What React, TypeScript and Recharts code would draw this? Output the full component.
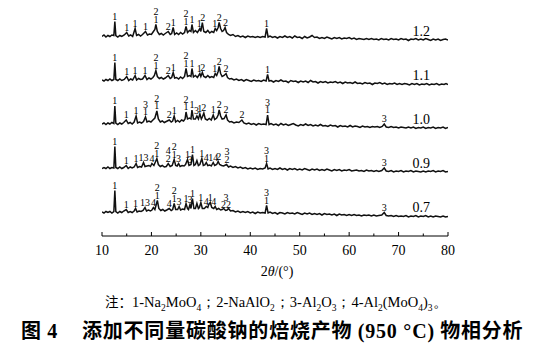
import React from 'react';
import { LineChart, Line, XAxis, YAxis, ReferenceDot } from 'recharts';

// 2θ ticks (minor every 5°)
const xTicks = [10, 15, 20, 25, 30, 35, 40, 45, 50, 55, 60, 65, 70, 75, 80];

// sample names (mass ratio of Na2CO3), top to bottom
const sampleNames = ['1.2', '1.1', '1.0', '0.9', '0.7'];

// intensity (a.u.), [2θ, counts]
const pattern12: [number, number][] = [
  [10,0],[10.4,1.5],[10.8,-0.5],[11.2,1],[11.6,0],[12,1.5],[12.4,1],[12.6,15],[12.8,1],[13.2,-0.5],[13.6,1],[14,0],[14.5,1.5],[15,4],[15.4,0.5],[15.8,1.5],[16.2,0],[16.7,8],[17,1],[17.4,2],[17.8,0.5],[18.2,2],[18.8,5],[19.2,1.5],[19.6,2.5],[20,2],[20.4,5],[20.7,7],[20.9,12],[21.2,5],[21.6,2],[22,3],[22.4,1.5],[22.8,3],[23.4,5],[23.8,2],[24.1,3],[24.4,9],[24.7,2],[25.1,3.5],[25.5,2],[25.9,4],[26.3,2.5],[26.7,4],[27,10],[27.3,4],[27.7,6],[28,5],[28.2,12],[28.5,4],[28.9,6],[29.3,4],[29.8,8],[30,5],[30.3,14],[30.6,5],[31,4],[31.4,6],[31.8,3.5],[32.2,5],[32.6,4],[32.9,8],[33.2,6],[33.5,9],[33.7,14],[34,8],[34.3,5],[34.6,6],[34.9,9],[35.2,4],[35.6,2],[36,1],[36.5,2],[37,0],[37.5,1],[38,-0.5],[38.5,0.5],[39,-1],[39.5,0.5],[40,-0.5],[40.5,0],[41,-1],[41.5,0],[42,-1],[42.5,0],[43,-0.5],[43.3,8],[43.6,-0.5],[44,0.5],[44.5,-1],[45,0],[45.5,-1.5],[46,0],[46.5,-1],[47,0.5],[47.5,-1],[48,0],[48.5,-1.5],[49,0.5],[49.5,-1],[50,-0.5],[50.5,-2],[51,0],[51.5,-1.5],[52,-0.5],[52.5,1],[53,-1],[53.5,-0.5],[54,-2],[54.5,-1],[55,-2],[55.5,-0.5],[56,-1.5],[56.5,-2.5],[57,-1],[57.5,-2],[58,-1],[58.5,-2.5],[59,-1.5],[59.5,-2],[60,-1],[60.5,-2.5],[61,-1.5],[61.5,-3],[62,-2],[62.5,-2.5],[63,-3],[63.5,-2],[64,-3],[64.5,-2],[65,-3],[65.5,-2.5],[66,-3.5],[66.5,-2],[67,-3],[67.5,-2.5],[68,-3.5],[68.5,-2],[69,-3],[69.5,-2.5],[70,-3.5],[70.5,-2],[71,-3],[71.5,-2.5],[72,-4],[72.5,-2.5],[73,-3],[73.5,-2],[74,-3.5],[74.5,-2.5],[75,-3.5],[75.5,-2],[76,-3],[76.5,-4],[77,-2.5],[77.5,-3.5],[78,-2.5],[78.5,-4],[79,-3],[79.5,-2.5],[80,-3.5],
];

const pattern11: [number, number][] = [
  [10,0.5],[10.4,-0.5],[10.8,1],[11.2,0],[11.6,1.5],[12,0],[12.4,1],[12.6,18],[12.8,1],[13.2,0],[13.6,1.5],[14,0],[14.5,1],[15,4],[15.4,0],[15.8,1.5],[16.2,0.5],[16.7,5],[17,0.5],[17.4,2],[17.8,1],[18.2,1.5],[18.7,5],[19.1,1],[19.5,2.5],[19.9,1.5],[20.3,3],[20.6,5],[20.9,10],[21.2,4],[21.6,2],[22,3],[22.4,1.5],[22.8,2.5],[23.4,5],[23.8,2],[24.1,3],[24.4,8],[24.7,2.5],[25.1,3],[25.5,1.5],[25.9,3.5],[26.3,2],[26.7,4],[27,12],[27.3,4],[27.7,5],[28,4],[28.2,12],[28.5,3.5],[28.9,5],[29.3,3],[29.8,7],[30,4],[30.3,8],[30.6,4],[31,3],[31.4,5],[31.8,3],[32.2,4],[32.6,3],[32.9,7],[33.2,5],[33.5,9],[33.7,14],[34,7],[34.3,4],[34.7,5],[35.1,7],[35.4,3],[35.8,1.5],[36.2,2],[36.7,0.5],[37.2,1.5],[37.7,0],[38.2,1],[38.7,-0.5],[39.2,1],[39.7,0],[40.2,-1],[40.7,0.5],[41.2,-0.5],[41.7,0],[42.2,-1],[42.7,0.5],[43.2,-0.5],[43.5,6],[43.8,-0.5],[44.2,0],[44.7,-1.5],[45.2,0],[45.7,-1],[46.2,0.5],[46.7,-1],[47.2,-0.5],[47.7,-2],[48.2,0],[48.7,-1],[49.2,-0.5],[49.7,-2],[50.2,-0.5],[50.7,-1.5],[51.2,-0.5],[51.7,-2],[52.2,0],[52.7,-1.5],[53.2,-1],[53.7,-2.5],[54.2,-1],[54.7,-2],[55.2,-1],[55.7,-2.5],[56.2,-1.5],[56.7,-2],[57.2,-1],[57.7,-2.5],[58.2,-1.5],[58.7,-3],[59.2,-1.5],[59.7,-2.5],[60.2,-2],[60.7,-3],[61.2,-1.5],[61.7,-3],[62.2,-2.5],[62.7,-3.5],[63.2,-2],[63.7,-3],[64.2,-2.5],[64.7,-4],[65.2,-2.5],[65.7,-3],[66.2,-2],[66.7,-3.5],[67.2,-2.5],[67.7,-4],[68.2,-3],[68.7,-3.5],[69.2,-2.5],[69.7,-4],[70.2,-3],[70.7,-4],[71.2,-3],[71.7,-3.5],[72.2,-4.5],[72.7,-3],[73.2,-4],[73.7,-3],[74.2,-4.5],[74.7,-3.5],[75.2,-4],[75.7,-3],[76.2,-4.5],[76.7,-3.5],[77.2,-4],[77.7,-3],[78.2,-4.5],[78.7,-3.5],[79.2,-4],[79.6,-3],[80,-4],
];

const pattern10: [number, number][] = [
  [10,0],[10.4,1],[10.8,-0.5],[11.2,1],[11.6,0],[12,1.5],[12.4,0.5],[12.6,18],[12.8,1],[13.2,-0.5],[13.6,1],[14,0],[14.4,1.5],[14.9,4],[15.3,0.5],[15.7,1.5],[16.1,0],[16.5,2],[16.9,8],[17.2,1],[17.6,2],[18,1],[18.4,2.5],[18.8,7],[19.1,2],[19.5,3],[19.9,2],[20.3,4],[20.7,6],[21.1,13],[21.4,5],[21.8,2],[22.2,3],[22.6,1.5],[23,2.5],[23.6,4],[24,2],[24.3,3],[24.6,8],[24.9,2],[25.3,3.5],[25.7,2],[26.1,4],[26.5,3],[26.8,5],[27,12],[27.3,5],[27.7,6],[28,5],[28.2,14],[28.5,5],[28.9,5],[29.2,8],[29.5,5],[29.8,10],[30.1,5],[30.3,7],[30.6,11],[30.9,5],[31.3,4],[31.7,5.5],[32.1,4],[32.5,9],[32.8,4.5],[33.2,6],[33.5,9],[33.7,14],[34,8],[34.3,5],[34.7,5.5],[35.1,9],[35.4,4],[35.8,2],[36.2,2.5],[36.7,1],[37.2,2],[37.7,1.5],[38.3,4],[38.7,1],[39.2,0],[39.7,1],[40.2,-0.5],[40.7,0.5],[41.2,-1],[41.7,0.5],[42.2,-0.5],[42.7,0],[43.2,-0.5],[43.5,9],[43.8,-0.5],[44.2,0.5],[44.7,-1],[45.2,0],[45.7,-1.5],[46.2,0.5],[46.7,-1],[47.2,0],[47.7,-1.5],[48.2,-0.5],[48.7,0.5],[49.2,-1],[49.7,-2],[50.2,-0.5],[50.7,-1.5],[51.2,0],[51.7,-1.5],[52.2,-0.5],[52.7,-2],[53.2,-1],[53.7,-2],[54.2,-0.5],[54.7,-2],[55.2,-1.5],[55.7,-2.5],[56.2,-1],[56.7,-2],[57.2,-1.5],[57.7,-3],[58.2,-1.5],[58.7,-2.5],[59.2,-2],[59.7,-3],[60.2,-1.5],[60.7,-3],[61.2,-2],[61.7,-2.5],[62.2,-3.5],[62.7,-2],[63.2,-3],[63.7,-2.5],[64.2,-3.5],[64.7,-2.5],[65.2,-3],[65.7,-2.5],[66.2,-3.5],[66.7,-2.5],[67.1,0],[67.5,-3],[68,-3.5],[68.5,-2.5],[69,-3.5],[69.5,-3],[70,-4],[70.5,-3],[71,-3.5],[71.5,-4],[72,-3],[72.5,-4],[73,-3],[73.5,-4.5],[74,-3.5],[74.5,-4],[75,-3],[75.5,-4.5],[76,-3.5],[76.5,-4],[77,-3],[77.5,-4.5],[78,-3.5],[78.5,-4],[79,-3],[79.5,-4.5],[80,-3.5],
];

const pattern09: [number, number][] = [
  [10,0],[10.4,1],[10.8,0],[11.2,1.5],[11.6,0],[12,1],[12.4,0.5],[12.6,22],[12.8,1],[13.2,0],[13.6,1.5],[14,0],[14.4,1],[14.9,3],[15.3,0],[15.7,1.5],[16.1,0.5],[16.5,1.5],[16.9,5],[17.2,1],[17.6,2],[18,1.5],[18.4,6],[18.7,2],[19.1,2.5],[19.5,3],[19.8,2],[20.1,5],[20.5,3],[21.1,10],[21.4,4],[21.8,2],[22.2,3],[22.6,1.5],[23,2],[23.4,5],[23.8,2],[24.2,3],[24.6,9],[24.9,3],[25.2,2.5],[25.5,5],[25.8,2],[26.2,3],[26.6,2.5],[26.9,4],[27.3,9],[27.6,3],[28,4],[28.3,14],[28.6,3],[28.9,4],[29.2,8],[29.5,3],[29.8,4],[30.2,10],[30.5,3],[30.8,3.5],[31.1,6],[31.4,3],[31.8,3.5],[32.1,2.5],[32.5,6],[32.8,3],[33.2,4],[33.5,7],[33.8,4],[34.2,3],[34.6,2.5],[35.2,4],[35.6,1.5],[36,2.5],[36.5,1],[37,2],[37.5,0.5],[38,1.5],[38.5,0],[39,1],[39.5,-0.5],[40,0.5],[40.5,-0.5],[41,0.5],[41.5,-1],[42,0],[42.5,-0.5],[43,0.5],[43.3,5],[43.6,-0.5],[44,0.5],[44.5,-1],[45,0],[45.5,-1],[46,0.5],[46.5,-1],[47,0],[47.5,-1.5],[48,0],[48.5,-1],[49,0],[49.5,-1.5],[50,-0.5],[50.5,-1.5],[51,0],[51.5,-1],[52,-2],[52.5,-0.5],[53,-1.5],[53.5,-0.5],[54,-2],[54.5,-1],[55,-2],[55.5,-0.5],[56,-1.5],[56.5,-2.5],[57,-1],[57.5,-2],[58,-1],[58.5,-2.5],[59,-1.5],[59.5,-2],[60,-1],[60.5,-2.5],[61,-2],[61.5,-1.5],[62,-2.5],[62.5,-2],[63,-3],[63.5,-1.5],[64,-2.5],[64.5,-2],[65,-3],[65.5,-2],[66,-3],[66.6,-2],[67.1,0.5],[67.5,-2.5],[68,-3],[68.5,-2],[69,-3.5],[69.5,-2.5],[70,-3],[70.5,-2],[71,-3.5],[71.5,-2.5],[72,-3],[72.5,-2],[73,-3.5],[73.5,-2.5],[74,-3],[74.5,-3.5],[75,-2.5],[75.5,-3.5],[76,-2.5],[76.5,-3],[77,-2],[77.5,-3.5],[78,-2.5],[78.5,-3],[79,-2],[79.5,-3.5],[80,-3],
];

const pattern07: [number, number][] = [
  [10,0.5],[10.4,-0.5],[10.8,1],[11.2,0],[11.6,1],[12,-0.5],[12.4,1],[12.6,22],[12.8,1],[13.2,-0.5],[13.6,1],[14,0],[14.4,1.5],[14.9,3],[15.3,0],[15.7,1],[16.1,0],[16.5,1.5],[16.8,4],[17.1,0.5],[17.5,1.5],[17.9,1],[18.3,2],[18.7,5],[19,1.5],[19.4,2.5],[19.8,1.5],[20.1,2.5],[20.4,5],[20.7,3],[21.2,12],[21.5,4],[21.9,2],[22.3,3],[22.7,1.5],[23.1,2.5],[23.6,4],[24,2],[24.3,3],[24.6,9],[24.9,3],[25.3,3],[25.6,6],[25.9,2.5],[26.3,3.5],[26.7,3],[27,9],[27.3,4],[27.5,3],[27.8,8],[28,4],[28.3,14],[28.6,4],[28.9,4],[29.2,9],[29.5,4],[29.7,5],[30,10],[30.3,4],[30.7,4],[31.1,6],[31.4,5],[31.6,8],[31.9,10],[32.2,5],[32.6,4],[32.9,6],[33.2,3],[33.6,4],[34,2.5],[34.3,3],[34.6,4],[35,2],[35.3,2.5],[35.6,4],[36,1.5],[36.5,2],[37,0.5],[37.5,1.5],[38,0],[38.5,1],[39,0],[39.5,1],[40,-0.5],[40.5,0.5],[41,-1],[41.5,0.5],[42,-0.5],[42.5,0],[43,-0.5],[43.3,7],[43.6,-0.5],[44,0.5],[44.5,-1],[45,0],[45.5,-1.5],[46,0],[46.5,-0.5],[47,-1.5],[47.5,0],[48,-1],[48.5,-0.5],[49,-1.5],[49.5,0],[50,-1],[50.5,-2],[51,-0.5],[51.5,-1.5],[52,-0.5],[52.5,-2],[53,-1],[53.5,-2],[54,-1],[54.5,-2.5],[55,-1],[55.5,-2],[56,-1.5],[56.5,-2.5],[57,-1.5],[57.5,-3],[58,-1.5],[58.5,-2.5],[59,-2],[59.5,-3],[60,-2],[60.5,-3],[61,-2],[61.5,-3],[62,-2.5],[62.5,-3.5],[63,-2.5],[63.5,-3],[64,-2.5],[64.5,-3.5],[65,-2.5],[65.5,-3.5],[66,-3],[66.6,-2.5],[67.1,0],[67.5,-3],[68,-3.5],[68.5,-3],[69,-4],[69.5,-3],[70,-4],[70.5,-3.5],[71,-4],[71.5,-3],[72,-4.5],[72.5,-3.5],[73,-4],[73.5,-3],[74,-4.5],[74.5,-3.5],[75,-4],[75.5,-3],[76,-4.5],[76.5,-3.5],[77,-4.5],[77.5,-3.5],[78,-4],[78.5,-4.5],[79,-3.5],[79.5,-4.5],[80,-4],
];

// phase marks: [2θ, text]; "/" stacks labels (top first)
const marks12: [number, string][] = [
  [12.6,'1'],[15.0,'1'],[16.7,'1'],[18.8,'1'],[20.9,'2/1'],[23.4,'2'],[24.4,'1'],[27.0,'2/1'],[28.2,'1'],[29.7,'1'],[30.4,'2'],[32.8,'1'],[33.7,'2'],[35.0,'2'],[43.3,'1'],
];
const marks11: [number, string][] = [
  [12.6,'1'],[15.0,'1'],[16.7,'1'],[18.7,'1'],[20.9,'2/1'],[23.4,'2'],[24.4,'1'],[27.0,'2/1'],[28.2,'1'],[29.7,'1'],[30.4,'2'],[32.8,'1'],[33.7,'2'],[35.1,'2'],[43.5,'1'],
];
const marks10: [number, string][] = [
  [12.6,'1'],[14.9,'1'],[16.9,'1'],[18.8,'3/1'],[21.1,'2/1'],[23.6,'2'],[24.6,'1'],[27.0,'2/1'],[28.2,'1'],[29.1,'3'],[29.8,'1'],[30.6,'2'],[32.5,'1'],[33.7,'2'],[35.1,'2'],[38.3,'2'],[43.5,'3/1'],[67.1,'3'],
];
const marks09: [number, string][] = [
  [12.6,'1'],[14.9,'1'],[16.9,'1'],[18.4,'13'],[20.1,'4'],[21.1,'2/1'],[23.4,'4/2'],[24.6,'2/1'],[25.5,'3'],[27.3,'1'],[27.8,'3'],[28.3,'1'],[30.2,'1'],[31.1,'4'],[32.5,'14'],[33.6,'2'],[35.3,'3/2'],[43.3,'3/1'],[67.1,'3'],
];
const marks07: [number, string][] = [
  [12.6,'1'],[14.9,'1'],[16.8,'1'],[18.7,'13'],[20.4,'4'],[21.2,'2/1'],[23.6,'4'],[24.6,'2/1'],[25.6,'3'],[27.0,'1'],[27.8,'3'],[28.3,'1'],[30.0,'1'],[31.1,'4'],[31.9,'1'],[32.6,'4'],[35.1,'3/22'],[43.3,'3/1'],[67.1,'3'],
];

const patterns = [pattern12, pattern11, pattern10, pattern09, pattern07];
const marks = [marks12, marks11, marks10, marks09, marks07];

// vertical stacking of the patterns (a.u.)
const OFFSETS = [199.5, 155.5, 112, 67.5, 23.5];
const AXIS_Y = 236;
const SERIF = "'Times New Roman', 'Liberation Serif', serif";

const peakTop = (p: [number, number][], t: number) => {
  let m = -Infinity;
  for (const [a, v] of p) if (Math.abs(a - t) <= 0.45) m = Math.max(m, v);
  return m;
};

const AxisTick = (props: any) => {
  const { x, payload } = props;
  const v = payload.value;
  const major = v % 10 === 0;
  return (
    <g>
      <line x1={x} x2={x} y1={AXIS_Y} y2={AXIS_Y - (major ? 4 : 2.5)} stroke="#000" strokeWidth={1} />
      {major && (
        <text x={x} y={AXIS_Y + 19} textAnchor="middle" fontSize={14} fontFamily={SERIF} fill="#000">
          {v}
        </text>
      )}
    </g>
  );
};

const MarkLabel = (props: any) => {
  const { cx, cy, text } = props;
  const lines = String(text).split('/');
  return (
    <g>
      {lines.map((s: string, i: number) => (
        <text
          key={i}
          x={cx}
          y={cy - 2 - (lines.length - 1 - i) * 7.5}
          textAnchor="middle"
          fontSize={10}
          fontFamily={SERIF}
          fill="#000"
        >
          {s}
        </text>
      ))}
    </g>
  );
};

const NameLabel = (props: any) => {
  const { cx, cy, text } = props;
  return (
    <text x={cx} y={cy} textAnchor="middle" fontSize={14} fontFamily={SERIF} fill="#000">
      {text}
    </text>
  );
};

const sub = { fontSize: 9.5 };

export default function App() {
  const series = patterns.map((p, i) => p.map(([x, v]) => ({ x, y: v + OFFSETS[i] })));

  return (
    <div style={{ position: 'absolute', left: 0, top: 0, width: 546, height: 358, background: '#fff' }}>
      <LineChart width={546} height={260} margin={{ top: 8, right: 98, left: 102, bottom: 0 }}>
        <XAxis
          type="number"
          dataKey="x"
          domain={[10, 80]}
          ticks={xTicks}
          interval={0}
          height={24}
          axisLine={{ stroke: '#000', strokeWidth: 1 }}
          tickLine={false}
          tick={<AxisTick />}
          allowDataOverflow
        />
        <YAxis type="number" domain={[0, 228]} hide allowDataOverflow />
        {series.map((d, i) => (
          <Line
            key={sampleNames[i]}
            data={d}
            dataKey="y"
            type="linear"
            stroke="#111"
            strokeWidth={1.5}
            dot={false}
            activeDot={false}
            isAnimationActive={false}
          />
        ))}
        {marks.map((ms, i) =>
          ms.map(([t, text], j) => (
            <ReferenceDot
              key={`m-${i}-${j}`}
              x={t}
              y={peakTop(patterns[i], t) + OFFSETS[i]}
              r={0}
              ifOverflow="visible"
              shape={(p: any) => <MarkLabel cx={p.cx} cy={p.cy} text={text} />}
            />
          ))
        )}
        {sampleNames.map((s, i) => (
          <ReferenceDot
            key={`n-${s}`}
            x={74.6}
            y={OFFSETS[i] + 0.5}
            r={0}
            ifOverflow="visible"
            shape={(p: any) => <NameLabel cx={p.cx} cy={p.cy} text={s} />}
          />
        ))}
      </LineChart>

      <div
        style={{
          position: 'absolute',
          left: 0,
          width: 554,
          top: 263,
          textAlign: 'center',
          fontFamily: SERIF,
          fontSize: 14,
          lineHeight: '18px',
        }}
      >
        2<i>θ</i>/(°)
      </div>

      <div
        style={{
          position: 'absolute',
          left: 105,
          top: 292,
          fontFamily: SERIF,
          fontSize: 14.5,
          letterSpacing: 0,
          lineHeight: '18px',
          whiteSpace: 'nowrap',
        }}
      >
        <span style={{ fontFamily: "'Noto Sans CJK SC', sans-serif", fontSize: 13.5 }}>注：</span>
        1-Na<sub style={sub}>2</sub>MoO<sub style={sub}>4</sub>；2-NaAlO<sub style={sub}>2</sub>；3-Al
        <sub style={sub}>2</sub>O<sub style={sub}>3</sub>；4-Al<sub style={sub}>2</sub>(MoO
        <sub style={sub}>4</sub>)<sub style={sub}>3</sub>。
      </div>

      <div
        style={{
          position: 'absolute',
          left: 21,
          top: 318,
          fontFamily: "'Noto Sans CJK SC', sans-serif",
          fontWeight: 700,
          fontSize: 20,
          letterSpacing: 0.8,
          lineHeight: '24px',
          whiteSpace: 'nowrap',
          color: '#000',
        }}
      >
        图 <span style={{ fontFamily: SERIF }}>4</span>
        <span style={{ marginLeft: 24 }}>添加不同量碳酸钠的焙烧产物 </span>
        <span style={{ fontFamily: SERIF }}>(950 °C)</span> 物相分析
      </div>
    </div>
  );
}
